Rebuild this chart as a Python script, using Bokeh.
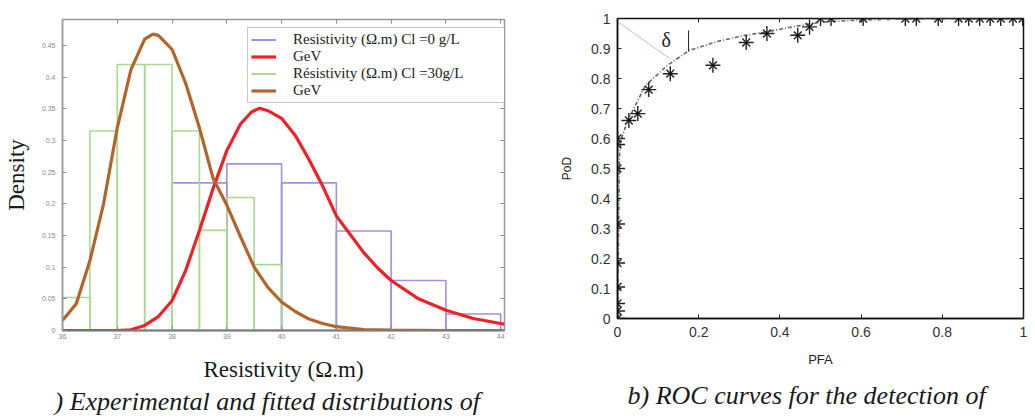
from bokeh.plotting import figure
from bokeh.models import (Range1d, FixedTicker, NumeralTickFormatter, LinearAxis,
                          Legend, LegendItem, Title)
from bokeh.layouts import row, column
from bokeh.embed import file_html
from bokeh.resources import INLINE
from bokeh.core.properties import value

# ---------------- data: left panel (resistivity distributions) ----------------
bin_edges_cl0 = [38, 39, 40, 41, 42, 43, 44]
density_cl0 = [0.233, 0.263, 0.233, 0.157, 0.079, 0.026]

bin_edges_cl30 = [36, 36.5, 37, 37.5, 38, 38.5, 39, 39.5, 40]
density_cl30 = [0.052, 0.315, 0.42, 0.42, 0.315, 0.158, 0.21, 0.104]

gev_cl0_x = [36, 36.5, 37, 37.25, 37.5, 37.75, 38, 38.25, 38.5, 38.75, 39, 39.25,
             39.45, 39.6, 39.75, 40, 40.25, 40.5, 40.75, 41, 41.25, 41.5, 41.75, 42,
             42.5, 43, 43.5, 44, 44.07]
gev_cl0_y = [0, 0, 0, 0.001, 0.008, 0.022, 0.047, 0.095, 0.158, 0.224, 0.284, 0.326,
             0.345, 0.351, 0.347, 0.335, 0.308, 0.27, 0.228, 0.181, 0.152, 0.123, 0.099,
             0.079, 0.05, 0.032, 0.019, 0.011, 0.01]

gev_cl30_x = [36, 36.25, 36.5, 36.75, 37, 37.25, 37.5, 37.65, 37.75, 38, 38.25, 38.5,
              38.75, 39, 39.25, 39.5, 39.75, 40, 40.25, 40.5, 40.75, 41, 41.5, 42,
              43, 44.07]
gev_cl30_y = [0.016, 0.042, 0.11, 0.2, 0.32, 0.412, 0.46, 0.468, 0.466, 0.444, 0.39,
              0.32, 0.24, 0.198, 0.148, 0.1, 0.068, 0.045, 0.03, 0.018, 0.011, 0.006,
              0.0015, 0.0005, 0, 0]

resistivity_ticks = [36, 37, 38, 39, 40, 41, 42, 43, 44]
density_ticks = [0, 0.05, 0.1, 0.15, 0.2, 0.25, 0.3, 0.35, 0.4, 0.45]
legend_labels = ["Resistivity (\u03a9.m) Cl =0 g/L", "GeV",
                 "R\u00e9sistivity (\u03a9.m) Cl =30g/L", "GeV"]
caption_a = ") Experimental and fitted distributions of"

# ---------------- data: right panel (ROC) ----------------
pfa = [0, 0, 0, 0, 0, 0, 0, 0, 0, 0.028, 0.05, 0.077, 0.13, 0.235, 0.317, 0.368,
       0.444, 0.473, 0.5, 0.526, 0.605, 0.709, 0.736, 0.79, 0.84, 0.865, 0.892,
       0.918, 0.944, 0.974, 0.998]
pod = [0, 0.025, 0.05, 0.105, 0.185, 0.315, 0.5, 0.58, 0.6, 0.66, 0.683, 0.763,
       0.816, 0.844, 0.92, 0.95, 0.944, 0.972, 1, 1, 1, 1, 1, 1, 1, 1, 1, 1, 1, 1, 1]
fit_pfa = [0, 0.003, 0.005, 0.01, 0.02, 0.04, 0.069, 0.1, 0.122, 0.176, 0.245, 0.31,
           0.369, 0.43, 0.5, 0.6, 0.7, 0.8, 1]
fit_pod = [0, 0.3, 0.55, 0.6, 0.64, 0.7, 0.777, 0.815, 0.843, 0.893, 0.923, 0.943,
           0.956, 0.972, 0.988, 0.995, 0.998, 1, 1]
delta_line_pfa = [0.0, 0.13]
delta_line_pod = [0.99, 0.865]
delta_tick_pfa = [0.175, 0.175]
delta_tick_pod = [0.89, 0.96]
delta_label = (0.12, 0.93)
pfa_ticks = [0, 0.2, 0.4, 0.6, 0.8, 1]
pod_ticks = [0, 0.1, 0.2, 0.3, 0.4, 0.5, 0.6, 0.7, 0.8, 0.9, 1]
caption_b = "b) ROC curves for the detection of"

PURPLE = "#a78fd8"
RED = "#ee2226"
GREEN = "#a9d98e"
BROWN = "#b0652a"
SERIF = "Liberation Serif"
SANS = "Liberation Sans"


def inner_axis(tk, color):
    return LinearAxis(ticker=FixedTicker(ticks=tk), major_tick_in=4, major_tick_out=0,
                      minor_tick_line_color=None, axis_line_color=None,
                      major_tick_line_color=color, major_label_text_font_size="1px",
                      major_label_text_color=None, major_label_standoff=0)


def caption(text, offset, standoff):
    return Title(text=text, align="left", offset=offset, standoff=standoff,
                 text_font=SERIF, text_font_style="italic", text_font_size="26px",
                 text_color="#1a1a1a")


# ---------------- left figure ----------------
p1 = figure(width=540, height=420, x_range=Range1d(36, 44.07), y_range=Range1d(0, 0.491),
            min_border_left=57, min_border_right=36, min_border_top=19, min_border_bottom=90,
            toolbar_location=None, output_backend="svg")
p1.grid.visible = False
p1.outline_line_color = "#9a9a9a"
p1.outline_line_width = 1.5

p1.quad(left=bin_edges_cl0[:-1], right=bin_edges_cl0[1:], bottom=0, top=density_cl0,
        fill_alpha=0, line_color=PURPLE, line_width=1.6)
p1.quad(left=bin_edges_cl30[:-1], right=bin_edges_cl30[1:], bottom=0, top=density_cl30,
        fill_alpha=0, line_color=GREEN, line_width=1.6)
r_red = p1.line(gev_cl0_x, gev_cl0_y, line_color=RED, line_width=3.2)
r_brown = p1.line(gev_cl30_x, gev_cl30_y, line_color=BROWN, line_width=3.2)
r_purple_key = p1.line(bin_edges_cl0[:-1], density_cl0, line_color=PURPLE, line_width=2,
                       visible=False)
r_green_key = p1.line(bin_edges_cl30[:-1], density_cl30, line_color=GREEN, line_width=2,
                      visible=False)

leg_r = [r_purple_key, r_red, r_green_key, r_brown]
legend = Legend(items=[LegendItem(label=l, renderers=[r]) for l, r in zip(legend_labels, leg_r)],
                location=(185, 227))
legend.label_text_font = SERIF
legend.label_text_font_size = "15px"
legend.label_text_color = "#222222"
legend.glyph_width = 25
legend.glyph_height = 17
legend.label_height = 17
legend.label_standoff = 17
legend.label_width = 212
legend.padding = 3
legend.spacing = 0
legend.margin = 0
legend.border_line_color = "#8a8a8a"
legend.border_line_width = 1.5
legend.background_fill_alpha = 1
p1.add_layout(legend)

for ax in (p1.xaxis[0], p1.yaxis[0]):
    ax.major_tick_in = 4
    ax.major_tick_out = 0
    ax.minor_tick_line_color = None
    ax.major_tick_line_color = "#8a8a8a"
    ax.major_label_text_font = SANS
    ax.major_label_text_font_size = "7px"
    ax.major_label_text_color = "#888888"
    ax.axis_label_text_font = SERIF
    ax.axis_label_text_font_style = "normal"
    ax.axis_label_text_font_size = "23px"
    ax.axis_label_text_color = "#1a1a1a"
p1.xaxis.ticker = FixedTicker(ticks=resistivity_ticks)
p1.yaxis.ticker = FixedTicker(ticks=density_ticks)
p1.yaxis.formatter = NumeralTickFormatter(format="0.[00]")
p1.xaxis.axis_label = "Resistivity (\u03a9.m)"
p1.yaxis.axis_label = "Density"
p1.xaxis.axis_line_color = "#7a7a7a"
p1.xaxis.axis_line_width = 2
p1.yaxis.axis_line_color = "#9a9a9a"
p1.yaxis.axis_line_width = 1.5
p1.xaxis.major_label_standoff = 3
p1.yaxis.major_label_standoff = 7
p1.xaxis.axis_label_standoff = 15
p1.yaxis.axis_label_standoff = 10

p1.add_layout(inner_axis(resistivity_ticks, "#8a8a8a"), "above")
p1.add_layout(inner_axis(density_ticks, "#8a8a8a"), "right")
p1.add_layout(caption(caption_a, -8, 0), "below")

# ---------------- right figure ----------------
p2 = figure(width=495, height=420, x_range=Range1d(0, 1), y_range=Range1d(0, 1),
            min_border_left=77, min_border_right=12, min_border_top=18, min_border_bottom=102,
            toolbar_location=None, output_backend="svg")
p2.grid.visible = False
p2.outline_line_color = "#111111"
p2.outline_line_width = 1.5

p2.line(fit_pfa, fit_pod, line_color="#666666", line_width=1.6, line_dash="4 2 1 2")
p2.line(delta_line_pfa, delta_line_pod, line_color="#e2b5b5", line_width=1)
p2.line(delta_tick_pfa, delta_tick_pod, line_color="#222222", line_width=1)
p2.text(x=[delta_label[0]], y=[delta_label[1]], text=["\u03b4"], text_font=value(SERIF),
        text_font_size="20px", text_align="center", text_baseline="middle",
        text_color="#222222")
p2.scatter(pfa, pod, marker="cross", size=15, line_color="#222222", line_width=1.4)
p2.scatter(pfa, pod, marker="x", size=11, line_color="#222222", line_width=1.4)
p2.scatter(pfa, pod, marker="circle", size=3, fill_color="#111111", line_color=None)

for ax in (p2.xaxis[0], p2.yaxis[0]):
    ax.major_tick_in = 4
    ax.major_tick_out = 0
    ax.minor_tick_line_color = None
    ax.major_tick_line_color = "#222222"
    ax.axis_line_color = "#111111"
    ax.axis_line_width = 1.5
    ax.major_label_text_font = SANS
    ax.major_label_text_font_size = "14px"
    ax.major_label_text_color = "#333333"
    ax.axis_label_text_font = SANS
    ax.axis_label_text_font_style = "normal"
    ax.axis_label_text_color = "#222222"
p2.xaxis.ticker = FixedTicker(ticks=pfa_ticks)
p2.yaxis.ticker = FixedTicker(ticks=pod_ticks)
p2.xaxis.formatter = NumeralTickFormatter(format="0.[0]")
p2.yaxis.formatter = NumeralTickFormatter(format="0.[0]")
p2.xaxis.axis_label = "PFA"
p2.yaxis.axis_label = "PoD"
p2.xaxis.axis_label_text_font_size = "13px"
p2.yaxis.axis_label_text_font_size = "12px"
p2.xaxis.major_label_standoff = 8
p2.yaxis.major_label_standoff = 7
p2.xaxis.axis_label_standoff = 12
p2.yaxis.axis_label_standoff = 14

p2.add_layout(inner_axis(pfa_ticks, "#222222"), "above")
p2.add_layout(inner_axis(pod_ticks, "#222222"), "right")
p2.add_layout(caption(caption_b, 10, 18), "below")

layout = row(column(p1), column(p2))
open("out.html", "w").write(file_html(layout, INLINE))
